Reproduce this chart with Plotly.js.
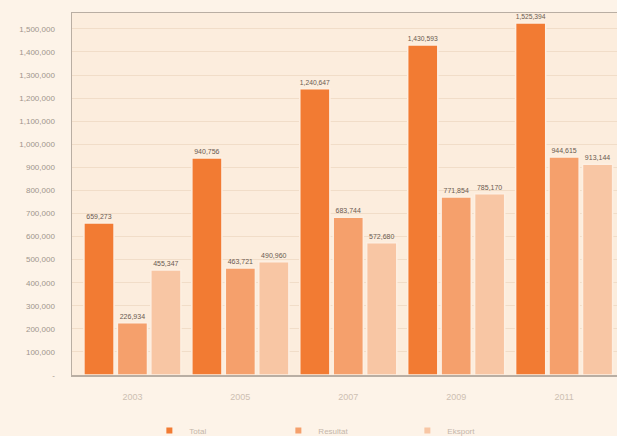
<!DOCTYPE html>
<html>
<head>
<meta charset="utf-8">
<script src="https://cdn.plot.ly/plotly-3.0.1.min.js"></script>
<style>
html,body{margin:0;padding:0;background:#FDF3E8;overflow:hidden;}
#chart{width:617px;height:436px;}
</style>
</head>
<body>
<div id="chart"></div>
<script>
const categories = ["2003", "2005", "2007", "2009", "2011"];
const seriesNames = ["Total", "Resultat", "Eksport"];
const totalValues = [659273, 940756, 1240647, 1430593, 1525394];
const resultValues = [226934, 463721, 683744, 771854, 944615];
const exportValues = [455347, 490960, 572680, 785170, 913144];
const yTickValues = [0, 100000, 200000, 300000, 400000, 500000, 600000, 700000, 800000, 900000, 1000000, 1100000, 1200000, 1300000, 1400000, 1500000];
const yTickLabels = ["-", "100,000", "200,000", "300,000", "400,000", "500,000", "600,000", "700,000", "800,000", "900,000", "1,000,000", "1,100,000", "1,200,000", "1,300,000", "1,400,000", "1,500,000"];
const colors = ["#F27B33", "#F5A06C", "#F8C6A4"];

const fmt = v => v.toLocaleString("en-US");
const seriesValues = [totalValues, resultValues, exportValues];

const barTraces = seriesValues.map((vals, i) => ({
  type: "bar",
  name: seriesNames[i],
  x: categories,
  y: vals,
  text: vals.map(fmt),
  textposition: "outside",
  cliponaxis: false,
  textfont: {family: "Liberation Sans, Arial, sans-serif", size: 7, color: "#6a5a50"},
  marker: {color: colors[i], line: {color: "#FDEFE2", width: 1.5}},
  showlegend: false,
  hoverinfo: "none"
}));

const legendTraces = seriesNames.map((n, i) => ({
  type: "scatter",
  mode: "markers",
  name: n,
  x: [null],
  y: [null],
  marker: {symbol: "square", size: 6, color: colors[i]},
  showlegend: true,
  hoverinfo: "none"
}));

const layout = {
  width: 617,
  height: 436,
  margin: {l: 72, r: 0, t: 13, b: 61, autoexpand: false},
  paper_bgcolor: "#FDF3E8",
  plot_bgcolor: "#FCEDDD",
  barmode: "group",
  bargap: 0.07,
  bargroupgap: 0.1,
  showlegend: true,
  legend: {
    orientation: "h",
    x: 0.497, xanchor: "center",
    y: -0.153, yanchor: "middle",
    font: {family: "Liberation Sans, Arial, sans-serif", size: 8, color: "#c4b6aa"},
    entrywidth: 84,
    entrywidthmode: "pixels",
    itemwidth: 30,
    traceorder: "normal",
    bgcolor: "rgba(0,0,0,0)"
  },
  xaxis: {
    type: "category",
    range: [-0.56, 4.49],
    showline: true,
    linecolor: "#b9aea3",
    linewidth: 1.5,
    mirror: true,
    ticks: "outside",
    ticklen: 13,
    tickcolor: "rgba(0,0,0,0)",
    tickfont: {family: "Liberation Sans, Arial, sans-serif", size: 9, color: "#cdbfb2"},
    showgrid: false,
    fixedrange: true
  },
  yaxis: {
    range: [0, 1569000],
    tickvals: yTickValues,
    ticktext: yTickLabels,
    showline: true,
    linecolor: "#b9aea3",
    linewidth: 1.5,
    showgrid: true,
    gridcolor: "#F1DDC8",
    gridwidth: 1,
    zeroline: false,
    ticks: "outside",
    ticklen: 14,
    tickcolor: "rgba(0,0,0,0)",
    tickfont: {family: "Liberation Sans, Arial, sans-serif", size: 8, color: "#a0958c"},
    fixedrange: true
  }
};

Plotly.newPlot("chart", barTraces.concat(legendTraces), layout, {displayModeBar: false, staticPlot: true});
</script>
</body>
</html>
